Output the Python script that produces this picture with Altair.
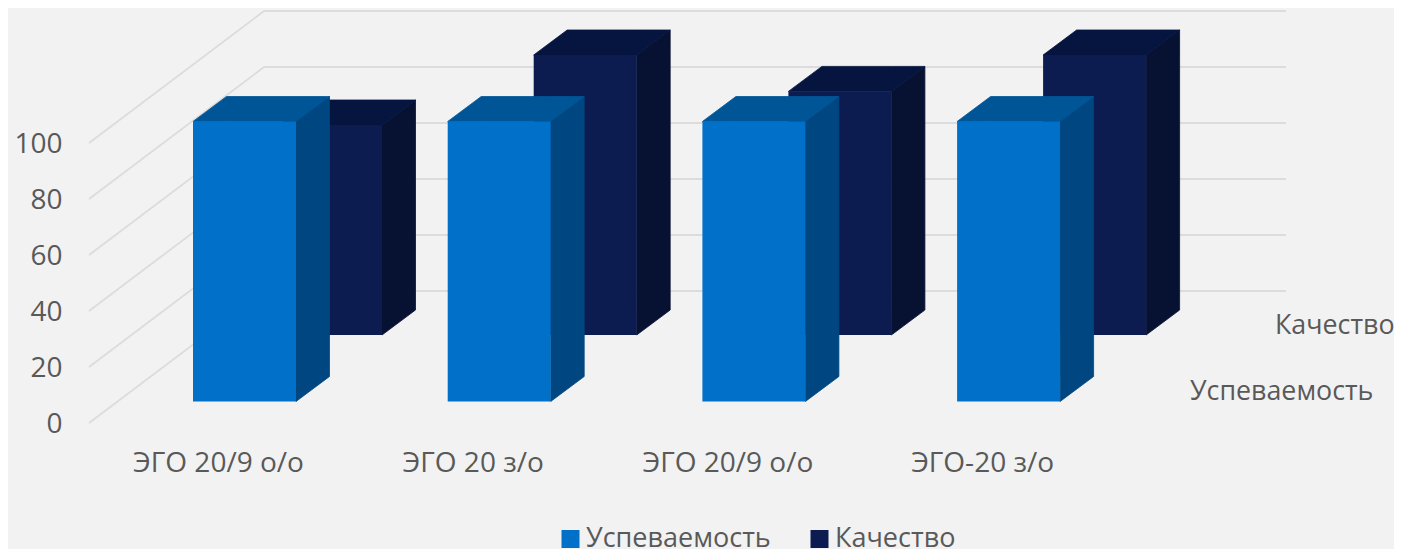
import altair as alt
import pandas as pd

categories = ["ЭГО 20/9 о/о", "ЭГО 20 з/о", "ЭГО 20/9 о/о", "ЭГО-20 з/о"]
uspev = [100, 100, 100, 100]
kach = [75, 100, 87, 100]
series_names = ["Успеваемость", "Качество"]
y_ticks = [0, 20, 40, 60, 80, 100]

FONT = "Open Sans"
TXT = "#595959"
BG = "#f2f2f2"
GRID = "#dcdcdc"
FACE = {"Успеваемость": "#0070c8", "Качество": "#0c1c50"}
TOP = {"Успеваемость": "#005597", "Качество": "#05153f"}
SIDE = {"Успеваемость": "#004680", "Качество": "#071233"}

# scale geometry (image pixels per data unit)
PX_CAT = 254.7
PX_VAL = 2.8
X0_PX = 218.0
Y0_PX = 423.0
LEFT, RIGHT, TOP_PX, BOTTOM = 70, 1394, 8, 445
x_dom = [(LEFT - X0_PX) / PX_CAT, (RIGHT - X0_PX) / PX_CAT]
y_dom = [(Y0_PX - BOTTOM) / PX_VAL, (Y0_PX - TOP_PX) / PX_VAL]

BAR_W = 103 / PX_CAT
DEPTH_X = 33.5 / PX_CAT
DEPTH_Y = 25 / PX_VAL
SHIFT = {"Успеваемость": (26.5 / PX_CAT, 21.5 / PX_VAL),
         "Качество": (112.5 / PX_CAT, 88 / PX_VAL)}

faces, sides, tops = [], [], []
for name, vals in zip(series_names, [uspev, kach]):
    sx, sy = SHIFT[name]
    for i, v in enumerate(vals):
        l = i + sx - BAR_W / 2
        r = l + BAR_W
        b = sy
        t = sy + v
        bid = f"{name}{i}"
        faces.append(dict(series=name, x=l, x2=r, y=b, y2=t))
        sides += [dict(series=name, bar=bid, x=r, y=b, y2=t),
                  dict(series=name, bar=bid, x=r + DEPTH_X, y=b + DEPTH_Y, y2=t + DEPTH_Y)]
        tops += [dict(series=name, bar=bid, x=l, y=t, y2=t),
                 dict(series=name, bar=bid, x=l + DEPTH_X, y=t, y2=t + DEPTH_Y),
                 dict(series=name, bar=bid, x=r, y=t, y2=t + DEPTH_Y),
                 dict(series=name, bar=bid, x=r + DEPTH_X, y=t + DEPTH_Y, y2=t + DEPTH_Y)]

faces = pd.DataFrame(faces)
sides = pd.DataFrame(sides)
tops = pd.DataFrame(tops)

# wall gridlines
WALL_A = (89 - X0_PX) / PX_CAT
WALL_B = (264 - X0_PX) / PX_CAT
WALL_C = (1286 - X0_PX) / PX_CAT
WALL_DY = 132 / PX_VAL
grid = []
for t in y_ticks:
    grid += [dict(tick=t, x=WALL_A, y=t),
             dict(tick=t, x=WALL_B, y=t + WALL_DY),
             dict(tick=t, x=WALL_C, y=t + WALL_DY)]
grid = pd.DataFrame(grid)

xs = alt.Scale(domain=x_dom, nice=False, zero=False)
ys = alt.Scale(domain=y_dom, nice=False, zero=False)
X = alt.X("x:Q", scale=xs, title=None, axis=alt.Axis(
    values=list(range(len(categories))),
    labelExpr="[" + ",".join(f"'{c}'" for c in categories) + "][datum.value]",
    domain=False, ticks=False, grid=False, labelFontSize=28, labelColor=TXT,
    labelFont=FONT, labelPadding=4, labelFlush=False, labelOverlap=False))
Y = alt.Y("y:Q", scale=ys, title=None, axis=alt.Axis(
    values=y_ticks, domain=False, ticks=False, grid=False, labelFontSize=28,
    labelColor=TXT, labelFont=FONT, labelPadding=8, labelOffset=1, format="d"))

grid_layer = alt.Chart(grid).mark_line(color=GRID, strokeWidth=1.8).encode(
    x=X, y=Y, detail="tick:N", order="x:Q")


def solid(df, colours):
    c = colours[df["series"].iloc[0]]
    return alt.Chart(df).mark_area(color=c, stroke=c, strokeWidth=0.8).encode(
        x=X, y=Y, y2="y2:Q", detail="bar:N")


colour = alt.Color("series:N", scale=alt.Scale(
    domain=series_names, range=[FACE[s] for s in series_names]),
    legend=alt.Legend(orient="none", legendX=487, legendY=516, direction="horizontal",
                      title=None, symbolType="square", symbolSize=324, symbolStrokeWidth=0,
                      labelFontSize=27, labelColor=TXT, labelFont=FONT, labelOffset=2,
                      columnPadding=35, labelLimit=300, symbolOpacity=1, clipHeight=30))


def face(df):
    return alt.Chart(df).mark_rect(opacity=1).encode(
        x=X, x2="x2:Q", y=Y, y2="y2:Q", color=colour)


layers = [grid_layer]
for name in reversed(series_names):
    layers += [solid(sides[sides.series == name], SIDE),
               solid(tops[tops.series == name], TOP),
               face(faces[faces.series == name])]

depth_labels = pd.DataFrame({
    "label": ["Качество", "Успеваемость"],
    "x": [(1275 - X0_PX) / PX_CAT, (1190 - X0_PX) / PX_CAT],
    "y": [(Y0_PX - 326) / PX_VAL, (Y0_PX - 392) / PX_VAL],
})
layers.append(alt.Chart(depth_labels).mark_text(
    align="left", baseline="middle", font=FONT, fontSize=26.8, color=TXT).encode(
    x=X, y=Y, text="label:N"))

chart = alt.layer(*layers).properties(
    width=RIGHT - LEFT, height=BOTTOM - TOP_PX, background=BG,
    padding={"left": LEFT - 8, "top": 0, "right": 0, "bottom": 104},
    autosize=alt.AutoSizeParams(type="none"),
).configure_view(stroke=None)

chart.save("out.html", embed_options={"renderer": "svg", "actions": False})
